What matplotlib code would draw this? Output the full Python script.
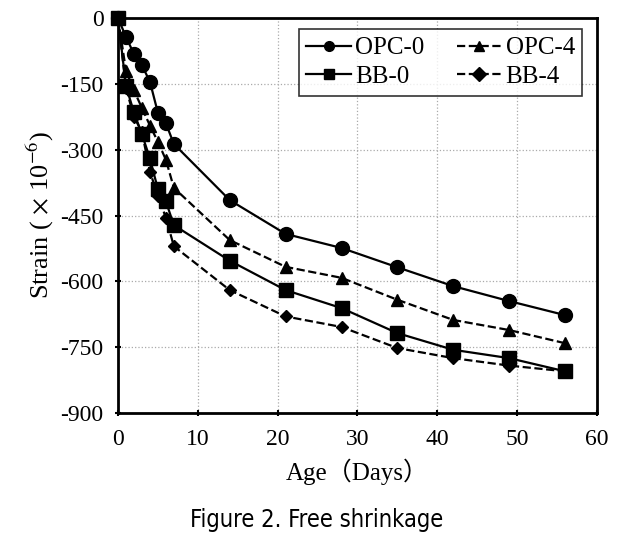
import matplotlib
matplotlib.use("Agg")
import matplotlib.pyplot as plt

days = [0, 1, 2, 3, 4, 5, 6, 7, 14, 21, 28, 35, 42, 49, 56]
opc0 = [0, -43, -82, -108, -145, -216, -240, -287, -415, -492, -524, -568, -611, -645, -677]
opc4 = [0, -120, -165, -205, -245, -282, -323, -387, -506, -567, -592, -642, -688, -711, -741]
bb0 = [0, -155, -215, -265, -320, -390, -418, -472, -553, -620, -661, -718, -756, -775, -805]
bb4 = [0, -160, -225, -260, -350, -405, -455, -520, -620, -680, -704, -752, -775, -792, -805]

xticks = [0, 10, 20, 30, 40, 50, 60]
yticks = [0, -150, -300, -450, -600, -750, -900]

serif = ['Liberation Serif', 'Noto Sans CJK SC', 'DejaVu Sans']
plt.rcParams['font.family'] = serif
plt.rcParams['mathtext.fontset'] = 'stix'

fig = plt.figure(figsize=(6.33, 5.41), dpi=100)
ax = fig.add_axes([0.1864, 0.2366, 0.7567, 0.7301])

l1, = ax.plot(days, opc0, '-', color='black', lw=1.6, marker='o', ms=10, label='OPC-0', zorder=3, clip_on=False)
l2, = ax.plot(days, opc4, '--', color='black', lw=1.6, marker='^', ms=9, label='OPC-4', zorder=3, clip_on=False)
l3, = ax.plot(days, bb0, '-', color='black', lw=1.6, marker='s', ms=9.5, label='BB-0', zorder=3, clip_on=False)
l4, = ax.plot(days, bb4, '--', color='black', lw=1.6, marker='D', ms=6.5, label='BB-4', zorder=3, clip_on=False)

ax.set_xlim(0, 60)
ax.set_ylim(-900, 0)
ax.set_xticks(xticks)
ax.set_yticks(yticks)
ax.set_yticklabels([str(v) for v in yticks])
ax.grid(True, color='#aaaaaa', linestyle=':', linewidth=0.9)
ax.set_axisbelow(True)
for s in ax.spines.values():
    s.set_linewidth(2.0)
ax.tick_params(axis='both', labelsize=17, width=1.5, length=5, direction='inout')
ax.tick_params(axis='x', pad=9)
ax.tick_params(axis='y', pad=8)

ax.set_xlabel('Age（Days）', fontsize=18, labelpad=6)
ax.set_ylabel('Strain ( $\\times$ 10$^{-6}$)', fontsize=19, labelpad=3)

leg = ax.legend([l1, l3, l2, l4], ['OPC-0', 'BB-0', 'OPC-4', 'BB-4'],
                ncol=2, loc='upper right', bbox_to_anchor=(0.985, 0.99), fontsize=18,
                frameon=True, fancybox=False, edgecolor='black', handlelength=1.8,
                columnspacing=1.3, handletextpad=0.15, borderpad=0.3, borderaxespad=0.3,
                labelspacing=0.25)
leg.get_frame().set_linewidth(1.2)
for h in leg.legend_handles:
    h.set_markersize(7)

fig.text(0.5, 0.038, 'Figure 2. Free shrinkage', ha='center', va='center', fontsize=17,
         family='DejaVu Sans', fontstretch='condensed', weight='medium')

fig.savefig('out.png', dpi=100)
